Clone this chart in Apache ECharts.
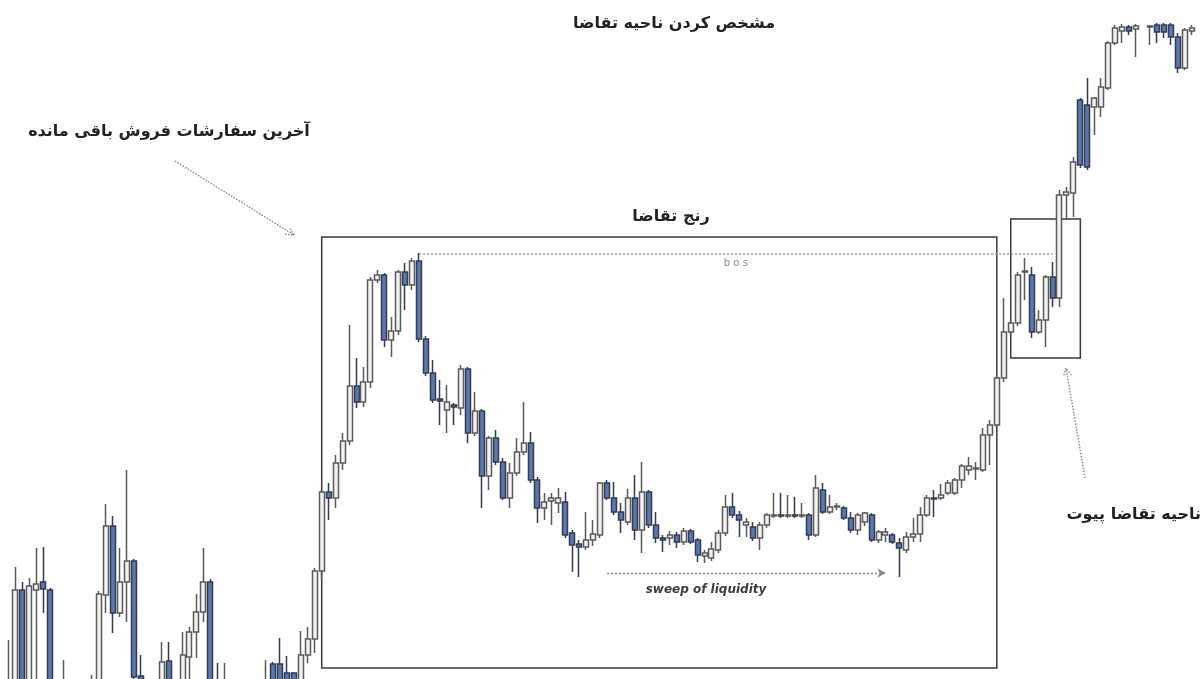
<!DOCTYPE html>
<html>
<head>
<meta charset="utf-8">
<script src="https://cdn.jsdelivr.net/npm/echarts@6/dist/echarts.min.js"></script>
<style>
html,body{margin:0;padding:0;background:#ffffff;}
#chart{width:1201px;height:679px;}
</style>
</head>
<body>
<div id="chart"></div>
<script>
// Candles as [open, close, low, high] (price units; view spans 0..679)
const ohlc = [
  // left cluster (mostly below view)
  [-21,-11,-31,39],[-21,89,-31,112],[89,-21,-31,97],[-21,93,-31,101],[89,95,-21,131],
  [97,90,66,132],[89,-21,-31,91],[-41,-31,-51,-21],[-21,-11,-31,19],[-31,-41,-51,-21],
  [-41,-31,-51,-21],[-31,-21,-41,-11],[-21,-11,-31,4],[-21,85,-31,88],[84,153,66,175],
  [153,66,46,163],[66,97,62,131],[97,118,57,209],[118,2,-6,120],[3,-11,-21,24],
  [-11,-21,-31,-6],[-21,-11,-31,-6],[-11,17,-21,37],[18,-11,-21,37],[-11,-16,-26,-5],
  [-11,24,-21,47],[22,47,-21,52],[47,67,21,85],[67,97,57,131],[97,-21,-31,100],
  [-11,-21,-31,16],[-21,-11,-31,16],[-11,-21,-31,-6],[-21,-31,-41,-11],[-31,-21,-41,-11],
  [-21,-31,-41,-11],[-31,-16,-36,-6],[-16,-11,-26,19],[15,-11,-21,17],[15,-11,-21,41],
  [6,-11,-21,23],[6,-11,-21,7],[-11,24,-21,48],[24,40,16,52],[40,108,26,111],
  // rally into the demand range
  [108,187,99,189],[187,181,159,196],[181,216,171,224],[216,238,209,246],[238,293,234,354],
  [293,277,271,321],[277,297,272,312],[297,399,291,402],[399,404,396,409],[404,339,332,406],
  [339,348,322,362],[348,407,344,409],[407,394,369,416],[394,418,389,421],[418,340,337,426],
  // decline
  [340,306,303,343],[306,279,276,319],[280,278,254,299],[269,277,246,294],[274,272,254,276],
  [271,310,264,314],[310,246,236,312],[246,268,243,287],[268,203,171,270],[203,241,189,243],
  [241,217,214,249],[217,181,179,221],[181,206,171,216],[206,227,203,241],[227,236,224,277],
  [236,199,196,247],[199,171,156,202],[171,177,159,186],[178,181,154,186],[176,181,166,191],
  [177,144,141,187],[146,134,107,149],[135,132,102,139],[132,139,129,167],[139,145,133,159],
  // base / sweep of liquidity
  [144,196,141,197],[196,181,179,199],[181,167,164,197],[167,159,146,176],[157,181,154,190],
  [181,149,139,204],[149,187,126,217],[187,154,151,189],[154,141,136,167],[141,139,127,144],
  [141,144,134,148],[144,137,131,147],[137,148,134,151],[148,137,135,150],[139,124,117,141],
  [123,126,116,129],[121,130,118,137],[129,146,126,149],[146,172,143,184],[172,164,161,186],
  [164,159,142,168],[154,157,142,161],[152,141,138,157],[141,154,129,157],[154,164,151,166],
  [163,164,161,186],[164,163,161,186],[163,164,161,184],[164,163,161,182],[163,164,161,176],
  [164,144,139,166],[144,191,142,204],[189,167,165,196],[167,172,165,184],[172,173,169,176],
  [171,161,159,173],[161,149,146,167],[149,164,144,166],[157,166,153,167],[164,139,137,166],
  [139,147,136,149],[144,147,137,151],[144,137,135,146],[136,131,102,141],[129,142,126,147],
  // recovery
  [142,145,137,161],[145,164,137,172],[164,181,162,184],[181,180,162,189],[181,184,179,195],
  [186,196,184,199],[186,199,184,201],[199,213,191,215],[209,213,204,222],[210,211,199,217],
  [209,244,207,251],[244,254,214,259],[254,301,251,303],[301,347,297,381],[347,356,344,359],
  // pivot demand zone and breakout
  [356,404,353,407],[407,408,379,421],[404,347,341,412],[347,359,345,369],[359,402,332,404],
  [402,381,372,417],[381,484,372,489],[484,487,459,492],[486,517,462,522],[579,514,511,581],
  [574,512,509,601],[572,581,544,582],[572,592,562,601],[591,636,589,638],[636,651,634,654],
  [648,652,636,655],[652,648,644,654],[650,653,622,655],[700,710,695,720],[652,653,634,654],
  [654,647,636,656],[654,647,641,656],[654,642,634,656],[642,611,606,646],[611,649,609,651],
  [648,651,644,654]
];
const categories = ohlc.map((_, i) => 'C' + (i + 1));

// annotation anchors: [candleIndex, price]
const demandRangeBox = [[45, 442], [142, 11]];
const pivotZoneBox = [[144, 460], [154, 321]];
const bosLine = [[59, 425], [150, 425]];
const sweepLine = [[86, 106], [126, 106]];

const titleText = 'مشخص کردن ناحیه تقاضا';
const lastSellText = 'آخرین سفارشات فروش باقی مانده';
const rangeText = 'رنج تقاضا';
const pivotText = 'ناحیه تقاضا پیوت';
const sweepText = 'sweep of liquidity';
const bosText = 'b o s';

const FONT = '"DejaVu Sans", "Noto Sans", sans-serif';
const chart = echarts.init(document.getElementById('chart'), null, {renderer: 'canvas'});

const dotted = {stroke: '#8a8a8a', lineWidth: 1.4, lineDash: [1.5, 1.5]};
const labelFont = 'bold 16px ' + FONT;

chart.setOption({
  animation: false,
  backgroundColor: '#ffffff',
  grid: {left: 5.02, right: 5.82, top: 0, bottom: 0, containLabel: false},
  xAxis: {
    type: 'category', data: categories, boundaryGap: true,
    axisLine: {show: false}, axisTick: {show: false}, axisLabel: {show: false}, splitLine: {show: false}
  },
  yAxis: {
    type: 'value', min: 0, max: 679, scale: false,
    axisLine: {show: false}, axisTick: {show: false}, axisLabel: {show: false}, splitLine: {show: false}
  },
  series: [{
    type: 'candlestick',
    data: ohlc,
    barWidth: 5.5,
    clip: true,
    itemStyle: {
      color: '#f1f1f1', borderColor: '#5a5a5a',
      color0: '#5b77b0', borderColor0: '#333b50',
      borderWidth: 1.5
    },
    markArea: {
      silent: true,
      itemStyle: {color: 'rgba(0,0,0,0)', borderColor: '#3a3a3a', borderWidth: 1.5},
      data: [
        [{coord: demandRangeBox[0]}, {coord: demandRangeBox[1]}],
        [{coord: pivotZoneBox[0]}, {coord: pivotZoneBox[1]}]
      ]
    },
    markLine: {
      silent: true,
      symbol: ['none', 'none'],
      animation: false,
      data: [
        [
          {coord: bosLine[0], lineStyle: {type: [2, 2], color: '#9a9a9a', width: 1.6},
           label: {show: true, position: 'insideMiddleBottom', formatter: bosText, color: '#8a8a8a',
                   fontSize: 10, fontFamily: FONT, distance: 4}},
          {coord: bosLine[1]}
        ],
        [
          {coord: sweepLine[0], lineStyle: {type: [2, 2], color: '#8a8a8a', width: 1.4},
           label: {show: false}},
          {coord: sweepLine[1], symbol: 'arrow', symbolSize: [7, 8]}
        ]
      ]
    }
  }],
  graphic: [
    {type: 'text', style: {text: titleText, x: 674, y: 24, align: 'center', verticalAlign: 'middle',
      font: labelFont, fill: '#222'}},
    {type: 'text', style: {text: lastSellText, x: 169, y: 132, align: 'center', verticalAlign: 'middle',
      font: labelFont, fill: '#222'}},
    {type: 'text', style: {text: rangeText, x: 671, y: 217, align: 'center', verticalAlign: 'middle',
      font: labelFont, fill: '#222'}},
    {type: 'text', style: {text: pivotText, x: 1201, y: 515, align: 'right', verticalAlign: 'middle',
      font: labelFont, fill: '#222'}},
    {type: 'text', style: {text: sweepText, x: 706, y: 590, align: 'center', verticalAlign: 'middle',
      font: 'italic bold 12px ' + FONT, fill: '#3c3c3c'}},
    {type: 'line', shape: {x1: 175, y1: 161, x2: 294, y2: 235}, style: dotted},
    {type: 'polyline', shape: {points: [[285.1, 234.2], [294, 235], [289.3, 227.4]]}, style: dotted},
    {type: 'line', shape: {x1: 1085, y1: 478, x2: 1066, y2: 368}, style: dotted},
    {type: 'polyline', shape: {points: [[1071.3, 375.2], [1066, 368], [1063.5, 376.6]]}, style: dotted}
  ]
});
</script>
</body>
</html>
